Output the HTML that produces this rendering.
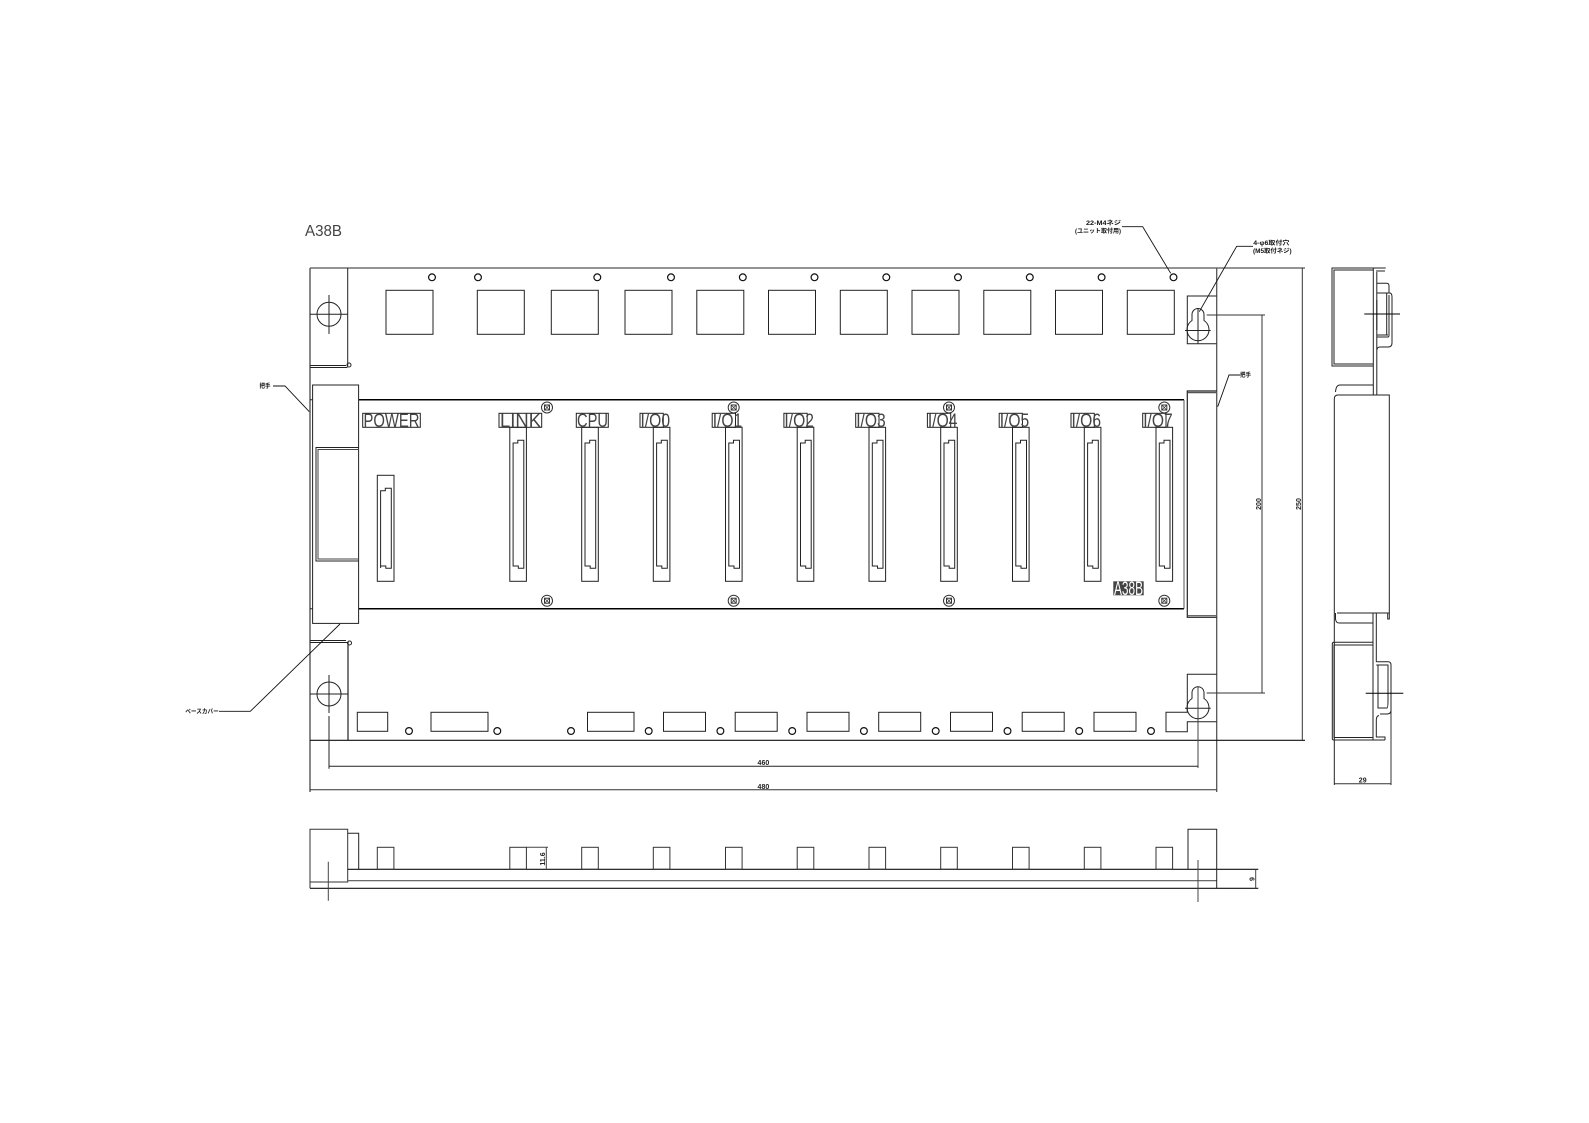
<!DOCTYPE html>
<html><head><meta charset="utf-8"><style>
html,body{margin:0;padding:0;background:#fff;width:1589px;height:1123px;overflow:hidden}
svg{display:block}
text{font-family:"Liberation Sans","Noto Sans CJK JP",sans-serif;fill:#111}
.j{font-size:6px;font-weight:700}
.d{font-size:7px;font-weight:700;fill:#222}
.c{font-size:19px;fill:#444}
</style></head><body>
<svg width="1589" height="1123" viewBox="0 0 1589 1123" xmlns="http://www.w3.org/2000/svg">
<defs>
<g id="slot" fill="none" stroke="#222" stroke-width="1">
<rect x="0" y="0" width="16.6" height="154"/>
<path d="M3.3,138.7V15.7H8V13H14V141H8.5V138.7Z"/>
</g>
<g id="screw" fill="none" stroke="#333" stroke-width="1">
<circle r="5.5"/><rect x="-2.5" y="-2.5" width="5" height="5" stroke-width="1"/><path d="M-2,-2L2,2M2,-2L-2,2" stroke-width=".7"/>
</g>
<rect id="sq" width="47" height="44" fill="none" stroke="#222" stroke-width="1"/>
<rect id="lo" width="42" height="19" fill="none" stroke="#222" stroke-width="1"/>
<rect id="ft" width="16.6" height="22" fill="none" stroke="#333" stroke-width="1"/>
</defs>
<rect width="1589" height="1123" fill="#fff"/>

<g fill="none" stroke="#222" stroke-width="1">
<!-- outline -->
<path d="M310,268V792" stroke="#555" stroke-width="1.4"/>
<path d="M1216.7,268V792" stroke="#555" stroke-width="1.3"/>
<path d="M310,268H1305" stroke="#555" stroke-width="1.2"/>
<path d="M310,740.3H1305" stroke="#111" stroke-width="1.1"/>
<path d="M1216.7,296H1187.3V343.7H1216.7"/>
<path d="M1216.7,674.3H1187.3V712.3H1166V731.7H1187.3V721.7H1216.7"/>
<!-- left brackets -->
<path d="M347.7,268V366"/>
<path d="M310,365.5H346M310,367.5H347.5" stroke-width=".9"/>
<circle cx="349" cy="365" r="2"/>
<path d="M348,642V740" stroke-width="1.2"/>
<path d="M310,640.5H346M310,642.5H347.5" stroke-width=".9"/>
<circle cx="349.5" cy="643" r="2"/>
<circle cx="329" cy="314.3" r="12"/>
<path d="M310,314.3H347.5M329,295V334"/>
<circle cx="329" cy="694" r="12"/>
<path d="M310,694H348M329,675V713M329,716V768.7"/>

<!-- panel -->
<path d="M358.7,399.7H1184M358.7,608.7H1184" stroke="#000" stroke-width="1.5"/>
<path d="M310,399.7H312.5M310,608.7H312.5"/>
<path d="M1184,399.7V608.7" stroke="#555"/>
<!-- left cover -->
<rect x="312.6" y="385" width="46" height="238.4" fill="#fff"/>
<path d="M358.7,447.5H316V561H358.7" />
<path d="M358.7,449.5H318V559H358.7" stroke="#444"/>
<!-- right cover -->
<path d="M1216.7,391H1187.3V617.3H1216.7" stroke-width="1.2"/>
<path d="M1187.5,392.6H1216.7M1187.5,615.7H1216.7" stroke="#555" stroke-width="1.2"/>

<!-- keyholes -->
<path d="M1192,314.5A6,6 0 0 1 1204,314.5V320.5A11,11 0 1 1 1192,320.5Z"/>
<path d="M1185,330.5H1210.7M1198,308V344"/>
<path d="M1192,692.7A6,6 0 0 1 1204,692.7V698.5A11,11 0 1 1 1192,698.5Z"/>
<path d="M1185,708.3H1210.7"/>
<path d="M1198,687V768" stroke="#444"/>

<!-- dimensions -->
<path d="M1206.7,315H1265M1262,315V693M1206.7,693H1265" stroke="#333"/>
<path d="M1302.3,268V740.3" stroke="#333"/>
<path d="M329,766.3H1198"/>
<path d="M310,789.7H1216.7" stroke="#333"/>

<!-- leaders -->
<path d="M1122,226.7H1142.7L1170.7,273.3" stroke="#111" stroke-width=".9"/>
<path d="M1253,246.3H1236.7L1199.3,311.7" stroke="#111" stroke-width=".9"/>
<path d="M1240,375H1229L1217.7,406.7" stroke="#111" stroke-width=".9"/>
<path d="M273,386H285L309.3,411.7" stroke="#111" stroke-width=".9"/>
<path d="M219,711.3H250.3L340,624" stroke="#111" stroke-width=".9"/>

<!-- small holes -->
<g stroke="#111" stroke-width="1.2">
<circle cx="432" cy="277.3" r="3.4"/><circle cx="478" cy="277.3" r="3.4"/><circle cx="597.3" cy="277.3" r="3.4"/><circle cx="671" cy="277.3" r="3.4"/><circle cx="742.8" cy="277.3" r="3.4"/><circle cx="814.5" cy="277.3" r="3.4"/><circle cx="886.3" cy="277.3" r="3.4"/><circle cx="958" cy="277.3" r="3.4"/><circle cx="1029.8" cy="277.3" r="3.4"/><circle cx="1101.6" cy="277.3" r="3.4"/><circle cx="1173.5" cy="277.3" r="3.4"/>
<circle cx="409" cy="731" r="3.4"/><circle cx="497.3" cy="731" r="3.4"/><circle cx="571" cy="731" r="3.4"/><circle cx="648.7" cy="731" r="3.4"/><circle cx="720.4" cy="731" r="3.4"/><circle cx="792.2" cy="731" r="3.4"/><circle cx="863.9" cy="731" r="3.4"/><circle cx="935.7" cy="731" r="3.4"/><circle cx="1007.5" cy="731" r="3.4"/><circle cx="1079.2" cy="731" r="3.4"/><circle cx="1151" cy="731" r="3.4"/>
</g>
</g>

<!-- top squares -->
<use href="#sq" x="386" y="290.3"/><use href="#sq" x="477.3" y="290.3"/><use href="#sq" x="551.3" y="290.3"/><use href="#sq" x="625" y="290.3"/><use href="#sq" x="696.8" y="290.3"/><use href="#sq" x="768.5" y="290.3"/><use href="#sq" x="840.3" y="290.3"/><use href="#sq" x="912" y="290.3"/><use href="#sq" x="983.8" y="290.3"/><use href="#sq" x="1055.5" y="290.3"/><use href="#sq" x="1127.3" y="290.3"/>

<!-- bottom boxes -->
<g fill="none" stroke="#222" stroke-width="1">
<rect x="357.3" y="712.3" width="30.4" height="19"/>
<rect x="431" y="712.3" width="57" height="19"/>
<rect x="587.5" y="712.3" width="46.5" height="19"/>
</g>
<use href="#lo" x="663.5" y="712.3"/><use href="#lo" x="735.2" y="712.3"/><use href="#lo" x="807" y="712.3"/><use href="#lo" x="878.7" y="712.3"/><use href="#lo" x="950.5" y="712.3"/><use href="#lo" x="1022.2" y="712.3"/><use href="#lo" x="1094" y="712.3"/>

<!-- slots -->
<g fill="none" stroke="#222" stroke-width="1">
<rect x="377.3" y="475.3" width="16.7" height="106"/>
<path d="M380.6,568V490.7H385.3V488.3H391.3V568.3H385.8V566H380.6Z"/>
</g>
<use href="#slot" x="509.8" y="427.3"/><use href="#slot" x="581.7" y="427.3"/><use href="#slot" x="653.3" y="427.3"/><use href="#slot" x="725.5" y="427.3"/><use href="#slot" x="797.2" y="427.3"/><use href="#slot" x="869" y="427.3"/><use href="#slot" x="940.7" y="427.3"/><use href="#slot" x="1012.5" y="427.3"/><use href="#slot" x="1084.3" y="427.3"/><use href="#slot" x="1156" y="427.3"/>

<!-- screws -->
<use href="#screw" x="547" y="407.5"/><use href="#screw" x="733.7" y="407.5"/><use href="#screw" x="949" y="407.5"/><use href="#screw" x="1164.3" y="407.5"/>
<use href="#screw" x="547" y="600.7"/><use href="#screw" x="733.7" y="600.7"/><use href="#screw" x="949" y="600.7"/><use href="#screw" x="1164.3" y="600.7"/>

<!-- panel labels -->
<g fill="none" stroke="#222" stroke-width="1">
<rect x="362.7" y="413.3" width="57.6" height="14"/>
<rect x="499" y="413.3" width="42.7" height="14"/>
<rect x="576.3" y="413.3" width="32" height="14"/>
<rect x="640" y="413.3" width="23.3" height="14"/><rect x="712.2" y="413.3" width="23.3" height="14"/><rect x="783.9" y="413.3" width="23.3" height="14"/><rect x="855.7" y="413.3" width="23.3" height="14"/><rect x="927.4" y="413.3" width="23.3" height="14"/><rect x="999.2" y="413.3" width="23.3" height="14"/><rect x="1071" y="413.3" width="23.3" height="14"/><rect x="1142.7" y="413.3" width="23.3" height="14"/>
</g>
<rect x="1113.3" y="581.3" width="30.4" height="14" fill="#444"/>
<g class="c">
<text class="c" x="363.5" y="426.8" textLength="56" lengthAdjust="spacingAndGlyphs">POWER</text>
<text class="c" x="500" y="426.8" textLength="41" lengthAdjust="spacingAndGlyphs">LINK</text>
<text class="c" x="577" y="426.8" textLength="31" lengthAdjust="spacingAndGlyphs">CPU</text>
<text class="c" x="640.5" y="426.8" textLength="29.5" lengthAdjust="spacingAndGlyphs">I/O0</text>
<text class="c" x="712.7" y="426.8" textLength="29.5" lengthAdjust="spacingAndGlyphs">I/O1</text>
<text class="c" x="784.4" y="426.8" textLength="29.5" lengthAdjust="spacingAndGlyphs">I/O2</text>
<text class="c" x="856.2" y="426.8" textLength="29.5" lengthAdjust="spacingAndGlyphs">I/O3</text>
<text class="c" x="927.9" y="426.8" textLength="29.5" lengthAdjust="spacingAndGlyphs">I/O4</text>
<text class="c" x="999.7" y="426.8" textLength="29.5" lengthAdjust="spacingAndGlyphs">I/O5</text>
<text class="c" x="1071.5" y="426.8" textLength="29.5" lengthAdjust="spacingAndGlyphs">I/O6</text>
<text class="c" x="1143.2" y="426.8" textLength="29.5" lengthAdjust="spacingAndGlyphs">I/O7</text>
</g>
<text x="1114" y="594.8" font-size="19" textLength="29" lengthAdjust="spacingAndGlyphs" style="fill:#fff">A38B</text>
<text x="305" y="236" font-size="16" textLength="37" lengthAdjust="spacingAndGlyphs" style="fill:#444">A38B</text>

<!-- annotations -->
<text class="j" x="1086" y="225" textLength="35" lengthAdjust="spacingAndGlyphs">22-M4ネジ</text>
<text class="j" x="1075" y="233" textLength="46" lengthAdjust="spacingAndGlyphs">(ユニット取付用)</text>
<text class="j" x="1253.3" y="245" textLength="36" lengthAdjust="spacingAndGlyphs">4-φ6取付穴</text>
<text class="j" x="1253" y="253" textLength="38.7" lengthAdjust="spacingAndGlyphs">(M5取付ネジ)</text>
<text class="j" x="1240" y="377.2" textLength="11" lengthAdjust="spacingAndGlyphs">把手</text>
<text class="j" x="259.5" y="388.2" textLength="11" lengthAdjust="spacingAndGlyphs">把手</text>
<text class="j" x="185.3" y="713.5" textLength="33.5" lengthAdjust="spacingAndGlyphs">ベースカバー</text>

<!-- dim text -->
<text class="d" x="763.4" y="765" text-anchor="middle">460</text>
<text class="d" x="763.4" y="789" text-anchor="middle">480</text>
<text class="d" x="1362.7" y="782.5" text-anchor="middle">29</text>
<text class="d" text-anchor="middle" transform="translate(1260.8,504) rotate(-90)">200</text>
<text class="d" text-anchor="middle" transform="translate(1300.8,504) rotate(-90)">250</text>
<text class="d" text-anchor="middle" transform="translate(544.8,859) rotate(-90)">11.6</text>
<text class="d" text-anchor="middle" transform="translate(1254.5,879) rotate(-90)">9</text>

<!-- side view -->
<g fill="none" stroke="#222" stroke-width="1">
<path d="M1373,268H1332V366H1373M1373,270H1334V364H1373"/>
<path d="M1373.3,268V395M1376.8,272V395M1373,268H1385.7M1376,271H1385"/>
<path d="M1377,283.3H1386.7Q1389,283.3 1389,286V293M1377,293H1389.5Q1392,293 1392,297V343Q1392,347 1388,347H1380Q1377,347 1377,350"/>
<path d="M1377,335H1388M1377,337H1388Q1389,337 1389,335V295M1386.7,293V335M1376.8,300V330"/>
<path d="M1364.3,314H1400" stroke="#000"/>
<path d="M1373,385H1340Q1336,385 1335.5,392"/>
<path d="M1373,395H1338Q1334.3,395 1334.3,399V785"/>
<path d="M1373,395H1389.3V619H1387.7V613M1337,613H1389"/>
<path d="M1391,665V785" stroke="#333"/>
<path d="M1335.5,613V619Q1336,623 1339,623H1373"/>
<path d="M1373,613V740M1376.3,613V661.7M1376.3,720V737"/>
<path d="M1372.7,642.3H1334Q1332.3,642.3 1332.3,644V738.5Q1332.3,740 1334,740H1385M1372.7,645H1334V737.5H1372.7M1376,737H1385V740"/>
<path d="M1376.3,661.7H1388Q1391,661.7 1391,665V710Q1391,714 1387,714H1380M1379,715.5Q1376.3,716 1376.3,720"/>
<path d="M1376.3,665H1388V700M1378,665V708H1387Q1388,708 1388,700"/>
<path d="M1365.7,693.3H1403.3" stroke="#000"/>
<path d="M1334.3,783.7H1391" stroke="#333"/>
</g>

<!-- bottom view -->
<g fill="none" stroke="#222" stroke-width="1">
<path d="M310,888.3V829.3H347.7V882H310" stroke="#333"/>
<path d="M347.7,833.3H358.7V869.3"/>
<path d="M347.7,869.3H1258.3" stroke="#111" stroke-width="1.1"/>
<path d="M347.7,880.7H1216.7" stroke="#555" stroke-width="1.2"/>
<path d="M310,888.3H1258.3" stroke="#111" stroke-width="1.1"/>
<path d="M1188,869.3V829.3H1216.7V888.3" />
<path d="M328.3,861.7V900.7M1198,860V902" stroke="#444"/>
<path d="M526.3,847.3H548M546.3,847.3V869.3M1255.7,869.3V888.3" stroke="#444"/>
</g>
<use href="#ft" x="377.3" y="847.3"/><use href="#ft" x="509.8" y="847.3"/><use href="#ft" x="581.7" y="847.3"/><use href="#ft" x="653.3" y="847.3"/><use href="#ft" x="725.5" y="847.3"/><use href="#ft" x="797.2" y="847.3"/><use href="#ft" x="869" y="847.3"/><use href="#ft" x="940.7" y="847.3"/><use href="#ft" x="1012.5" y="847.3"/><use href="#ft" x="1084.3" y="847.3"/><use href="#ft" x="1156" y="847.3"/>
</svg>
</body></html>
